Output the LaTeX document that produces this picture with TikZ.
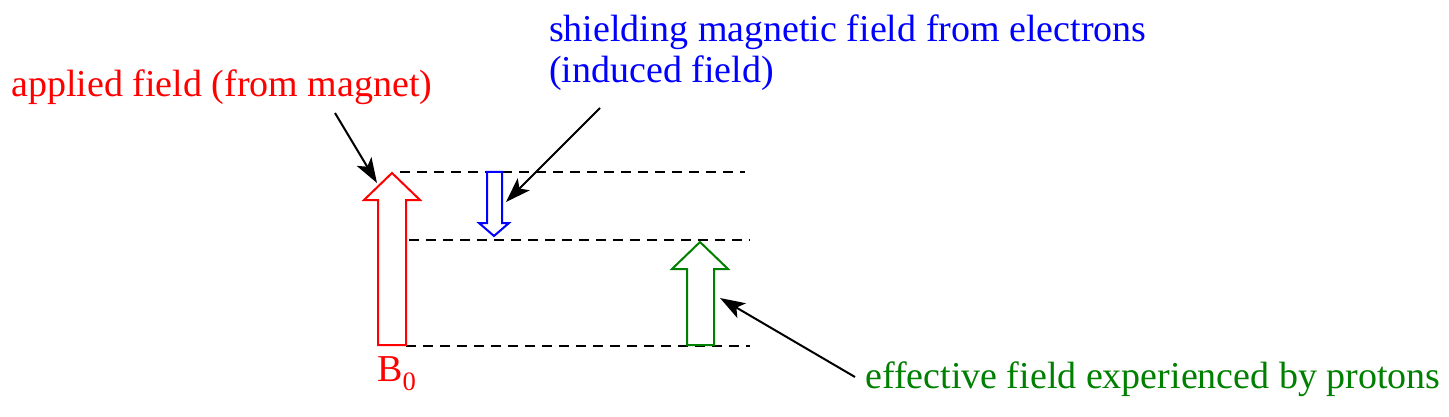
\documentclass[tikz,border=0pt]{standalone}
\usepackage{fontspec}
\setmainfont{Liberation Serif}
\newfontfamily\lblfont{Liberation Serif}
\usetikzlibrary{arrows.meta}
\definecolor{fgreen}{RGB}{0,128,0}
\tikzset{
  lbl/.style={anchor=base west, inner sep=0pt, font=\lblfont\fontsize{38}{41}\selectfont},
  blockarrow/.style={line width=2pt, fill=white, line join=miter},
  levelline/.style={line width=1.6pt, dash pattern=on 10pt off 7pt},
  callout/.style={line width=2pt, -{Stealth[length=25pt,width=17pt,inset=6pt]}}
}
\begin{document}
\begin{tikzpicture}[x=1pt,y=-1pt]
\useasboundingbox (0,0) rectangle (1449,417);
% level lines
\draw[levelline] (400,172) -- (745,172);
\draw[levelline] (409,240) -- (750,240);
\draw[levelline] (406,346) -- (750,346);
% red block arrow
\draw[blockarrow, draw=red] (378,345) -- (378,200) -- (364,200) -- (392,173) -- (420,200) -- (406,200) -- (406,345) -- cycle;
\coordinate (redtip) at (377,183);
% blue block arrow
\draw[blockarrow, draw=blue] (487,172) -- (487,223) -- (479,223) -- (494,236) -- (509,223) -- (502,223) -- (502,172) -- cycle;
\coordinate (bluetip) at (506,202);
% green block arrow
\draw[blockarrow, draw=fgreen] (687,345) -- (687,269) -- (672,269) -- (700,242) -- (728,269) -- (714,269) -- (714,345) -- cycle;
\coordinate (greentip) at (720,298);
% labels
\node[lbl, text=red] (applied) at (11,97) {applied field (from magnet)};
\node[lbl, text=blue, align=left, anchor=north west] (shield) at (549,15) {shielding magnetic field from electrons\\(induced field)};
\node[lbl, text=fgreen] (effective) at (865,388) {effective field experienced by protons};
\node[lbl, text=red] (b0) at (377,381) {B\textsubscript{0}};
% callouts
\coordinate (a1) at (335,113);
\coordinate (a2) at (600,108);
\coordinate (a3) at (855,377);
\draw[callout] (a1) -- (redtip);
\draw[callout] (a2) -- (bluetip);
\draw[callout] (a3) -- (greentip);
\end{tikzpicture}
\end{document}
